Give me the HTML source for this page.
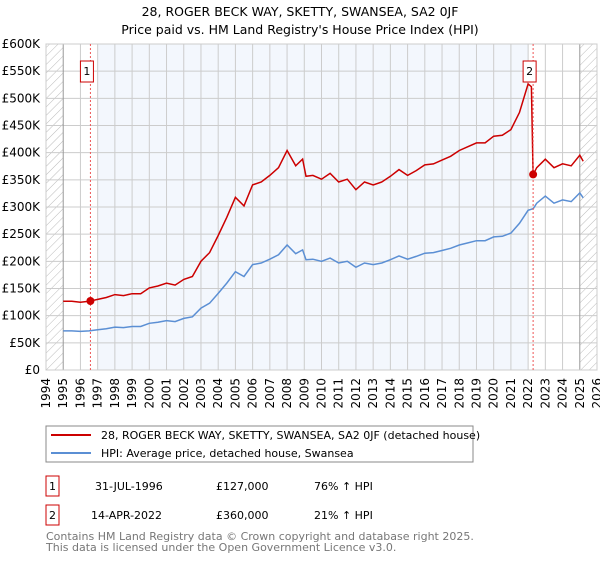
<!DOCTYPE html>
<html><head><meta charset="utf-8"><style>
body{margin:0;background:#fff;font-family:"Liberation Sans","DejaVu Sans",sans-serif;}
svg text{font-family:"DejaVu Sans","Liberation Sans",sans-serif;}
</style></head><body>
<svg id="c" width="600" height="560" xmlns="http://www.w3.org/2000/svg">
<defs><pattern id="h" width="6" height="6" patternUnits="userSpaceOnUse" patternTransform="rotate(45)"><line x1="0" y1="0" x2="0" y2="6" stroke="#bbb" stroke-width="1"/></pattern></defs>
<text x="300" y="16" font-size="12.5" text-anchor="middle">28, ROGER BECK WAY, SKETTY, SWANSEA, SA2 0JF</text>
<text x="300" y="34" font-size="12.5" text-anchor="middle">Price paid vs. HM Land Registry's House Price Index (HPI)</text>
<g id="plot"></g>
<g>
<rect x="46" y="426" width="427" height="36" fill="#fff" stroke="#888"/>
<line x1="51" y1="435" x2="91" y2="435" stroke="#cc0000" stroke-width="2"/>
<text x="101" y="439" font-size="11">28, ROGER BECK WAY, SKETTY, SWANSEA, SA2 0JF (detached house)</text>
<line x1="51" y1="453" x2="91" y2="453" stroke="#5b8fd4" stroke-width="2"/>
<text x="101" y="457" font-size="11">HPI: Average price, detached house, Swansea</text>
</g>
<g>
<rect x="46" y="476" width="13" height="20" fill="none" stroke="#cc0000"/>
<text x="52.5" y="490" font-size="11" text-anchor="middle">1</text>
<text x="95" y="490" font-size="11">31-JUL-1996</text>
<text x="216" y="490" font-size="11">£127,000</text>
<text x="314" y="490" font-size="11">76% ↑ HPI</text>
</g>
<g>
<rect x="46" y="505" width="13" height="20" fill="none" stroke="#cc0000"/>
<text x="52.5" y="519" font-size="11" text-anchor="middle">2</text>
<text x="91" y="519" font-size="11">14-APR-2022</text>
<text x="216" y="519" font-size="11">£360,000</text>
<text x="314" y="519" font-size="11">21% ↑ HPI</text>
</g>
<text x="46" y="540" font-size="11" fill="#777">Contains HM Land Registry data © Crown copyright and database right 2025.</text>
<text x="46" y="551" font-size="11" fill="#777">This data is licensed under the Open Government Licence v3.0.</text>
</svg>
<script>
const hpiYears=[1995,1995.5,1996,1996.5,1997,1997.5,1998,1998.5,1999,1999.5,2000,2000.5,2001,2001.5,2002,2002.5,2003,2003.5,2004,2004.5,2005,2005.5,2006,2006.5,2007,2007.5,2008,2008.5,2008.9,2009.1,2009.5,2010,2010.5,2011,2011.5,2012,2012.5,2013,2013.5,2014,2014.5,2015,2015.5,2016,2016.5,2017,2017.5,2018,2018.5,2019,2019.5,2020,2020.5,2021,2021.5,2022,2022.3,2022.5,2023,2023.5,2024,2024.5,2025,2025.2];
const hpiValues=[72,72,71,72,74,76,79,78,80,80,86,88,91,89,95,98,114,123,141,160,181,172,194,197,204,212,230,214,221,203,204,200,206,197,200,189,197,194,197,203,210,204,209,215,216,220,224,230,234,238,238,245,246,252,270,294,297,307,320,307,313,310,326,317];
const saleDates=[1996.58,2022.29];
const salePrices=[127,360];
const yTicks=[0,50,100,150,200,250,300,350,400,450,500,550,600];
const xTicks=[1994,1995,1996,1997,1998,1999,2000,2001,2002,2003,2004,2005,2006,2007,2008,2009,2010,2011,2012,2013,2014,2015,2016,2017,2018,2019,2020,2021,2022,2023,2024,2025,2026];
const L=46,R=597,T=44,B=370;
const x=v=>L+(v-1994)/(2026-1994)*(R-L);
const y=v=>B-v/600*(B-T);
const NS="http://www.w3.org/2000/svg";
const g=document.getElementById('plot');
function mk(t,a,p){const e=document.createElementNS(NS,t);for(const k in a)e.setAttribute(k,a[k]);(p||g).appendChild(e);return e;}
mk('rect',{x:x(1997),y:T,width:x(2022)-x(1997),height:B-T,fill:'#eef3fc',opacity:0.7});
mk('rect',{x:L,y:T,width:x(1995)-L,height:B-T,fill:'url(#h)'});
mk('rect',{x:x(2025),y:T,width:R-x(2025),height:B-T,fill:'url(#h)'});
yTicks.forEach(v=>{
 const l=mk('line',{x1:L,x2:R,y1:y(v),y2:y(v),stroke:'#ccc'});
 
 
 const t=mk('text',{x:L-6,y:y(v)+4,'font-size':12,'text-anchor':'end'});
 t.textContent='£'+(v?v+'K':'0');
 
 
});
xTicks.forEach(v=>{
 const l=mk('line',{x1:x(v),x2:x(v),y1:T,y2:B,stroke:(v==1995||v==2025)?'#999':'#ccc'});
 
 
 const t=mk('text',{x:0,y:0,'font-size':12,'text-anchor':'end',transform:`translate(${x(v)+4},${B+8}) rotate(-90)`});
 t.textContent=v;
 
 
});
mk('rect',{x:L,y:T,width:R-L,height:B-T,fill:'none',stroke:'#ccc'});
let d='';hpiYears.forEach((yr,i)=>{d+=(i?'L':'M')+x(yr).toFixed(1)+','+y(hpiValues[i]).toFixed(1);});
const hp=mk('path',{d:d,fill:'none',stroke:'#5b8fd4','stroke-width':1.5});


function hpiAt(t){for(let i=1;i<hpiYears.length;i++){if(t<=hpiYears[i]){const a=hpiYears[i-1],b=hpiYears[i];return hpiValues[i-1]+(hpiValues[i]-hpiValues[i-1])*(t-a)/(b-a);}}return hpiValues[hpiValues.length-1];}
const r1=salePrices[0]/hpiAt(saleDates[0]),r2=salePrices[1]/hpiAt(saleDates[1]);
let d2='';let first=true;
hpiYears.forEach((yr,i)=>{if(yr<saleDates[1]){d2+=(first?'M':'L')+x(yr).toFixed(1)+','+y(hpiValues[i]*r1*(yr>2021.8?1.02:1)).toFixed(1);first=false;}});
d2+='L'+x(saleDates[1]-0.1).toFixed(1)+','+y(hpiAt(saleDates[1])*r1).toFixed(1);
d2+='L'+x(saleDates[1]).toFixed(1)+','+y(salePrices[1]).toFixed(1);
hpiYears.forEach((yr,i)=>{if(yr>saleDates[1])d2+='L'+x(yr).toFixed(1)+','+y(hpiValues[i]*r2).toFixed(1);});
const pp=mk('path',{d:d2,fill:'none',stroke:'#cc0000','stroke-width':1.5});


saleDates.forEach((s,i)=>{
 const l=mk('line',{x1:x(s),x2:x(s),y1:T,y2:B,stroke:'#e55','stroke-dasharray':'2,2'});
 
 
 const c=mk('circle',{cx:x(s),cy:y(salePrices[i]),r:4,fill:'#cc0000'});
 
 
 const b=mk('rect',{x:x(s)-10,y:61,width:13,height:21,fill:'#fff',stroke:'#cc0000'});
 
 
 const t=mk('text',{x:x(s)-3.5,y:75,'font-size':11,'text-anchor':'middle'});
 t.textContent=i+1;
 
 
});
</script>
</body></html>
